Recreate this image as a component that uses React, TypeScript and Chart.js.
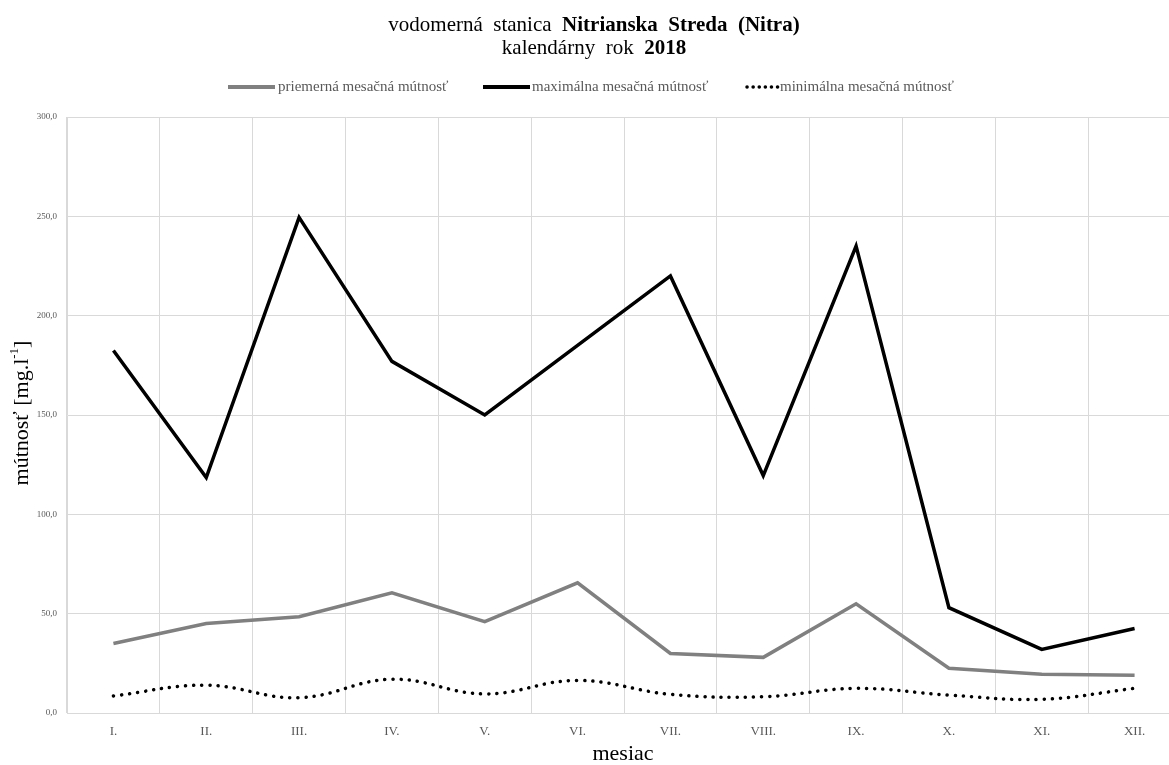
import { useEffect, useRef } from 'react';
import { Chart, registerables } from 'chart.js';

Chart.register(...registerables);

// Monthly turbidity at the Nitrianska Streda gauging station, 2018 (mg/l)
const months = ['I.', 'II.', 'III.', 'IV.', 'V.', 'VI.', 'VII.', 'VIII.', 'IX.', 'X.', 'XI.', 'XII.'];
const avgTurbidity = [35, 45, 48.5, 60.5, 46, 65.5, 30, 28, 55, 22.5, 19.5, 19];
const maxTurbidity = [182.5, 118.5, 249.5, 177, 150, 185, 220, 119.5, 235, 53, 32, 42.5];
const minTurbidity = [8.6, 14, 7.7, 17, 9.6, 16.4, 9.4, 8.2, 12.4, 9, 6.9, 12.4];
const yTicks = [0, 50, 100, 150, 200, 250, 300];

const seriesNames = [
  'priemerná mesačná mútnosť',
  'maximálna mesačná mútnosť',
  'minimálna mesačná mútnosť',
];

const SERIF = '"Liberation Serif", "Times New Roman", serif';
const GRID = '#d9d9d9';
const TEXT_GRAY = '#595959';

type Run = { text: string; bold?: boolean; size: number; rise?: number };

function runFont(r: Run) {
  return `${r.bold ? 'bold ' : ''}${r.size}px ${SERIF}`;
}

// Draws a row of differently styled text pieces centred on cx
function drawRuns(ctx: CanvasRenderingContext2D, runs: Run[], cx: number, y: number) {
  let total = 0;
  for (const r of runs) {
    ctx.font = runFont(r);
    total += ctx.measureText(r.text).width;
  }
  let x = cx - total / 2;
  ctx.textAlign = 'left';
  for (const r of runs) {
    ctx.font = runFont(r);
    ctx.fillText(r.text, x, y - (r.rise || 0));
    x += ctx.measureText(r.text).width;
  }
}

const annotations = {
  id: 'annotations',
  afterDraw(chart: Chart) {
    const ctx = chart.ctx;
    ctx.save();
    ctx.fillStyle = '#000';
    ctx.textBaseline = 'alphabetic';

    // chart title
    drawRuns(ctx, [
      { text: 'vodomerná  stanica  ', size: 21 },
      { text: 'Nitrianska  Streda  (Nitra)', size: 21, bold: true },
    ], 594, 31);
    drawRuns(ctx, [
      { text: 'kalendárny  rok  ', size: 21 },
      { text: '2018', size: 21, bold: true },
    ], 594, 54);

    // legend
    const ly = 87;
    const legend = [
      { x0: 228, x1: 275, color: '#808080', width: 4, dash: [] as number[], tx: 278 },
      { x0: 483, x1: 530, color: '#000000', width: 4, dash: [] as number[], tx: 532 },
      { x0: 747, x1: 778, color: '#000000', width: 3.5, dash: [0.1, 6], tx: 780 },
    ];
    legend.forEach((item, i) => {
      ctx.beginPath();
      ctx.strokeStyle = item.color;
      ctx.lineWidth = item.width;
      ctx.lineCap = item.dash.length ? 'round' : 'butt';
      ctx.setLineDash(item.dash);
      ctx.moveTo(item.x0, ly);
      ctx.lineTo(item.x1, ly);
      ctx.stroke();
      ctx.setLineDash([]);
      ctx.font = `15px ${SERIF}`;
      ctx.fillStyle = TEXT_GRAY;
      ctx.textAlign = 'left';
      ctx.textBaseline = 'middle';
      ctx.fillText(seriesNames[i], item.tx, ly);
    });

    // x axis title
    ctx.fillStyle = '#000';
    ctx.textBaseline = 'alphabetic';
    drawRuns(ctx, [{ text: 'mesiac', size: 22 }], 623, 760);

    // y axis title with superscript unit
    ctx.translate(22, 413);
    ctx.rotate(-Math.PI / 2);
    ctx.textBaseline = 'middle';
    drawRuns(ctx, [
      { text: 'mútnosť [mg.l', size: 22 },
      { text: '-1', size: 13, rise: 7 },
      { text: ']', size: 22 },
    ], 0, 0);
    ctx.restore();
  },
};

export default function App() {
  const canvasRef = useRef<HTMLCanvasElement | null>(null);

  useEffect(() => {
    const canvas = canvasRef.current;
    if (!canvas) return;
    const chart = new Chart(canvas, {
      type: 'line',
      data: {
        labels: months,
        datasets: [
          {
            label: seriesNames[0],
            data: avgTurbidity,
            borderColor: '#808080',
            borderWidth: 3.5,
            pointRadius: 0,
            tension: 0,
          },
          {
            label: seriesNames[1],
            data: maxTurbidity,
            borderColor: '#000000',
            borderWidth: 3.5,
            pointRadius: 0,
            tension: 0,
          },
          {
            label: seriesNames[2],
            data: minTurbidity,
            borderColor: '#000000',
            borderWidth: 3.5,
            borderDash: [0.1, 8],
            borderCapStyle: 'round',
            pointRadius: 0,
            tension: 0.4,
          },
        ],
      },
      options: {
        responsive: false,
        maintainAspectRatio: false,
        animation: false,
        layout: { padding: { top: 117, right: 9, left: 0, bottom: 0 } },
        plugins: {
          legend: { display: false },
          title: { display: false },
          tooltip: { enabled: false },
        },
        scales: {
          x: {
            offset: true,
            grid: { color: GRID, offset: true, drawTicks: false, lineWidth: 1 },
            border: { color: GRID, width: 1 },
            ticks: {
              color: TEXT_GRAY,
              font: { family: SERIF, size: 13 },
              padding: 11,
              maxRotation: 0,
            },
            afterFit(scale: any) {
              scale.height = 52;
            },
          },
          y: {
            min: 0,
            max: 300,
            afterBuildTicks(scale: any) {
              scale.ticks = yTicks.map((v) => ({ value: v }));
            },
            grid: { color: GRID, drawTicks: false, lineWidth: 1 },
            border: { color: GRID, width: 1 },
            ticks: {
              color: TEXT_GRAY,
              font: { family: SERIF, size: 9 },
              padding: 10,
              callback: (v: any) => Number(v).toFixed(1).replace('.', ','),
            },
            afterFit(scale: any) {
              scale.width = 67;
            },
          },
        },
      },
      plugins: [annotations],
    });
    return () => chart.destroy();
  }, []);

  return (
    <div style={{ position: 'fixed', left: 0, top: 0, width: 1169, height: 765, overflow: 'hidden', background: '#fff' }}>
      <canvas ref={canvasRef} width={1190} height={765} style={{ display: 'block' }} />
    </div>
  );
}
